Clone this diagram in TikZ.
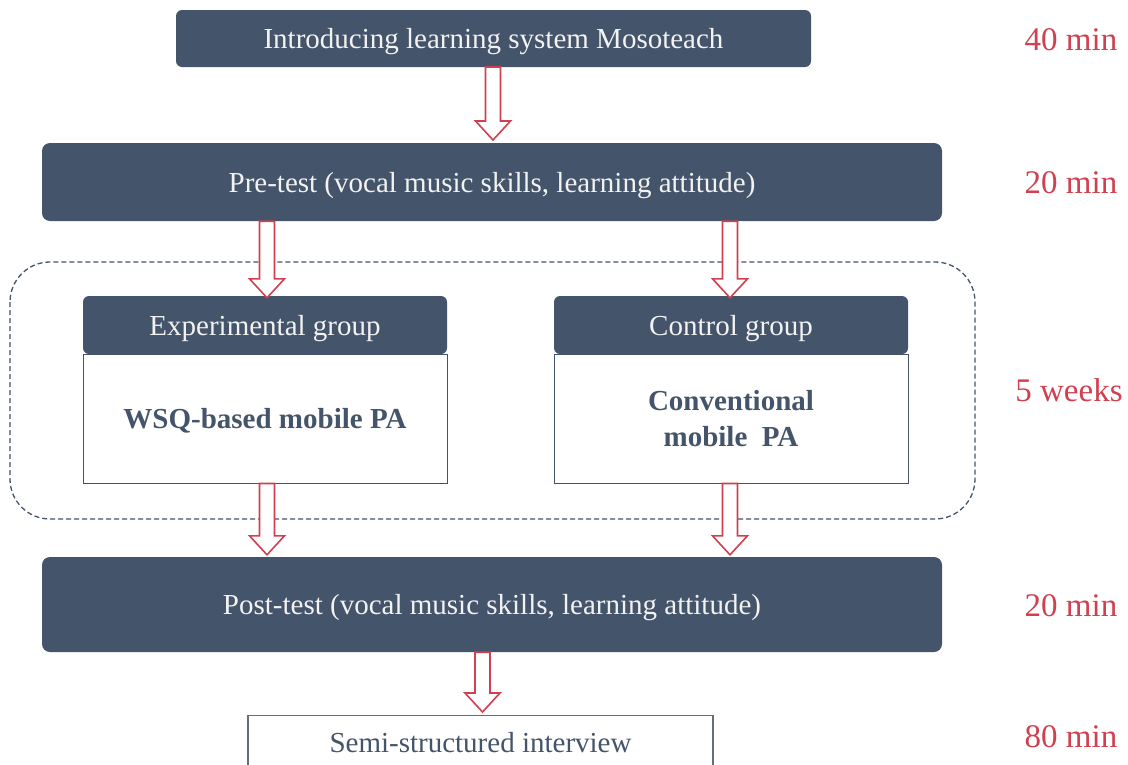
\documentclass[tikz,border=0pt]{standalone}
\usepackage{fontspec}
\setmainfont{Liberation Serif}
\usetikzlibrary{calc}
\definecolor{navy}{RGB}{68,84,106}
\definecolor{redc}{RGB}{208,64,80}
\definecolor{lighttxt}{RGB}{242,242,242}
\tikzset{
  darkbox/.style={fill=navy, draw=none, rounded corners=6pt, text=lighttxt, font=\fontsize{29}{34}\selectfont, inner sep=0pt, text depth=0pt},
  bodybox/.style={fill=white, draw=navy, line width=0.9pt, text=navy, font=\fontsize{29}{36}\selectfont\bfseries, inner sep=0pt, align=center, text depth=0pt},
  lightbox/.style={fill=white, draw=navy!85, line width=1.2pt, text=navy, font=\fontsize{29}{34}\selectfont, inner sep=0pt},
  timelabel/.style={text=redc, font=\fontsize{33}{38}\selectfont, inner sep=0pt},
  arrowline/.style={draw=redc, fill=white, line width=1.6pt, line join=miter},
}
\newcommand\blockarrow[2]{%
  \path[arrowline] let \p1=#1, \p2=#2 in
   (\x1-7.5pt,\y1) -- (\x1-7.5pt,\y2+19pt) -- (\x1-17.5pt,\y2+19pt) -- (\x1,\y2)
   -- (\x1+17.5pt,\y2+19pt) -- (\x1+7.5pt,\y2+19pt) -- (\x1+7.5pt,\y1) -- cycle;}
\begin{document}
\begin{tikzpicture}[x=1pt,y=-1pt]
\useasboundingbox[fill=white] (0,0) rectangle (1128,764);
% dashed group frame
\draw[navy, dash pattern=on 5pt off 3pt, line width=1.3pt, rounded corners=40pt] (10,262) rectangle (975,519);
% boxes
\node[darkbox, minimum width=635pt, minimum height=57pt] (intro) at (493.5,38.5) {Introducing learning system Mosoteach};
\node[darkbox, minimum width=900pt, minimum height=78pt, rounded corners=8pt] (pre) at (492,182) {Pre-test (vocal music skills, learning attitude)};
\node[bodybox, minimum width=364pt, minimum height=129pt] (expb) at (265,418.5) {WSQ-based mobile PA};
\node[bodybox, minimum width=354pt, minimum height=129pt] (ctrlb) at (731,418.5) {Conventional\\mobile~~PA};
\node[darkbox, minimum width=364pt, minimum height=58pt] (exph) at (265,325) {Experimental group};
\node[darkbox, minimum width=354pt, minimum height=58pt] (ctrlh) at (731,325) {Control group};
\node[darkbox, minimum width=900pt, minimum height=95pt, rounded corners=8pt] (post) at (492,604.5) {Post-test (vocal music skills, learning attitude)};
\node[lightbox, minimum width=465pt, minimum height=60pt, anchor=north] (semi) at (480.5,715) {};
\node[text=navy, font=\fontsize{29}{34}\selectfont, inner sep=0pt, text depth=0pt] (semit) at (480.5,742) {Semi-structured interview};
% time labels
\node[timelabel] (t1) at (1071,40) {40 min};
\node[timelabel] (t2) at (1071,183) {20 min};
\node[timelabel] (t3) at (1069,390) {5 weeks};
\node[timelabel] (t4) at (1071,606) {20 min};
\node[timelabel] (t5) at (1071,737) {80 min};
% arrows
\coordinate (a1s) at (493,67);
\coordinate (a1e) at (493,140);
\blockarrow{(a1s)}{(a1e)}
\blockarrow{($(exph.north|-pre.south)+(2,0)$)}{($(exph.north)+(2,2)$)}
\blockarrow{($(ctrlh.north|-pre.south)+(-1,0)$)}{($(ctrlh.north)+(-1,2)$)}
\blockarrow{($(expb.south)+(2,0)$)}{($(post.north-|expb.south)+(2,-2)$)}
\blockarrow{($(ctrlb.south)+(-1,0)$)}{($(post.north-|ctrlb.south)+(-1,-2)$)}
\blockarrow{($(post.south-|semi.north)+(2,0)$)}{($(semi.north)+(2,-3)$)}
\end{tikzpicture}
\end{document}
